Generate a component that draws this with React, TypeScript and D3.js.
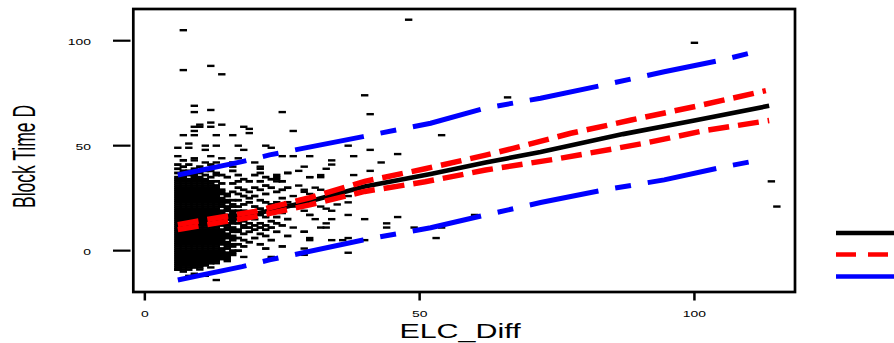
import React from "react";
import * as d3 from "d3";

// ---------- data ----------
// dense columns: ELC_Diff value -> Block Time D values
const col06 = [-9,-8,-7,-6,-5,-4,-3,-2,-1,0,1,2,3,4,5,6,7,8,9,10,11,12,13,14,15,16,17,18,19,20,21,22,23,24,25,26,27,28,29,30,31,32,33,34,35,37,39,41];
const col07 = [-9,-8,-7,-6,-5,-4,-3,-2,-1,0,1,2,3,4,5,6,7,8,9,10,11,12,13,14,15,16,17,18,19,20,21,22,23,24,25,26,27,28,29,30,31,32,33,34,35,36,38,40,43];
const col08 = [-9,-8,-7,-6,-5,-4,-3,-2,-1,0,1,2,3,4,5,6,7,8,9,10,11,12,13,14,15,16,17,18,19,20,21,22,23,24,25,26,27,28,29,30,31,32,33,34,36,38,41];
const col09 = [-8,-7,-6,-5,-4,-3,-2,-1,0,1,2,3,4,5,6,7,8,9,10,11,12,13,14,15,16,17,18,19,20,21,22,23,24,25,26,27,28,29,30,31,32,33,34,35,36,37,39];
const col10 = [-8,-7,-6,-5,-4,-3,-2,-1,0,1,2,3,4,5,6,7,8,9,10,11,12,13,14,15,16,17,18,19,20,21,22,23,24,25,26,27,28,29,30,31,32,33,34,35,37,40];
const col11 = [-7,-6,-5,-4,-3,-2,-1,0,1,2,3,4,5,6,7,8,9,10,11,12,13,14,15,16,17,18,19,20,21,22,23,24,25,26,27,28,29,30,31,32,33,34,36,38];
const col12 = [-6,-5,-4,-3,-2,-1,0,1,2,3,4,5,6,7,8,9,10,11,12,13,14,15,16,17,18,19,20,21,22,23,24,25,26,27,28,29,30,31,32,33,35,38,41];
const col13 = [-5,-4,-3,-2,-1,0,1,2,3,4,5,6,7,8,9,10,11,12,13,14,15,16,17,18,19,20,21,22,23,24,25,26,27,28,29,30,31,33,36,37];
const col14 = [-4,-3,-2,-1,0,1,3,4,5,6,7,8,9,10,12,13,14,15,16,17,18,19,21,22,23,24,25,27,28,29,32,36];
const col15 = [-4,-3,-2,-1,1,2,3,4,6,7,8,10,11,12,13,15,16,17,19,20,21,23,24,26,27,35];
const col16 = [-2,-1,0,2,3,5,6,7,9,10,11,13,14,15,17,18,19,21,22,24,28,32,38];
const col17 = [0,3,6,9,10,13,15,17,19,21,24,27,30,33,36];
const col18 = [2,5,8,11,12,14,17,19,22,26,29,34];
const col19 = [4,9,11,13,16,23,25,28,33];
const col20 = [6,10,12,15,18,21,26,30,36];
const col21 = [3,8,11,13,17,20,24,29,33,37];
const col22 = [1,7,10,12,16,23,27,31,35];
const col23 = [-4,5,11,14,19,22,30,34];
const col24 = [9,13,16,23,28,34,36];
const col25 = [2,12,18,25,29,33];
const col26 = [7,15,23,30,37];

const denseElc = [6,7,8,9,10,11,12,13,14,15,16,17,18,19,20,21,22,23,24,25,26];
const denseCols = [col06,col07,col08,col09,col10,col11,col12,col13,col14,col15,col16,col17,col18,col19,col20,col21,col22,col23,col24,col25,col26];

// sparse points [ELC_Diff, Block Time D]
const sparsePoints: [number, number][] = [
  [7,105],[7,86],[12,88],[14,84],[48,110],[100,99],[66,73],[40,74],[41,65],[54,55],[114,33],[115,21],
  [9,69],[9,66],[12,67],[25,66],
  [9,59],[10,60],[10,59],[12,61],[14,60],[12,59],[18,59],[19,58],[19,56],[9,57],[9,55],[7,55],[13,55],[16,55],[27,57],
  [8,51],[6,49],[8,49],[11,50],[11,48],[13,50],[17,50],[18,48],[22,50],[23,49],
  [6,45],[9,44],[9,43],[12,45],[17,44],[11,42],[13,42],[20,42],[21,40],[21,39],[25,45],[27,45],[30,45],[28,38],[29,40],[26,37],
  [16,42],[16,40],[14,44],[15,41],
  [37,50],[38,45],[41,48],[46,46],[34,43],[34,41],[43,42],[33,39],[41,38],[30,35],[32,36],[32,35],[38,36],
  [29,29],[29,28],[31,30],[32,29],[37,26],[37,23],[35,22],[32,21],[33,20],[34,19],[34,15],[30,17],[31,15],[37,17],[40,15],[46,16],
  [33,13],[33,11],[32,11],[44,13],[44,11],[49,11],[54,11],[29,9],[30,6],[34,5],[36,5],[37,6],[40,5],[53,6],
  [29,1],[29,-2],[37,-1],[60,17],
  [24,35],[24,33],[30,35],[28,31],[27,26],[30,27],[27,21],[29,19],[30,17],[27,11],[29,9],[30,5],[18,-3],[23,-3],
  [15,-5],[13,-6],[11,-12],[13,-14],[9,-11],[7,-10],[8,-12],[6,-9],[10,-9],[12,-8]
];

// fitted line and intervals
const fitX = [6, 20, 30, 40, 52, 62, 72, 87, 100, 113.6];
const fitY = [11.2, 17.5, 23.5, 30.5, 36.5, 42, 47, 55.5, 62, 69];
const ciUpX = [6, 20, 30, 40, 51, 62, 67, 77.5, 88.5, 100.7, 113];
const ciUpY = [12.4, 18.7, 25.2, 33, 39, 45.5, 48.7, 55.9, 62.2, 69, 76.2];
const ciLoX = [6, 20, 30, 40, 51, 62, 74.5, 90.8, 101.7, 113.6];
const ciLoY = [10, 16.2, 21.8, 28.2, 32.8, 38.4, 43.5, 51.1, 57.1, 62];
const piUpX = [6, 17.7, 22.7, 39.7, 52, 62, 72, 83.5, 94.5, 105.5, 112.5];
const piUpY = [36, 42.4, 45.6, 54.3, 60.7, 67.9, 72.6, 78.9, 85.2, 91.1, 95.6];
const piLoX = [6, 17.7, 22.7, 39.7, 52, 62, 72, 83.5, 94.5, 105.5, 112.5];
const piLoY = [-14, -7.6, -4.4, 5.1, 10.9, 17, 22.9, 28.9, 33.7, 40, 43.5];

const xTicks = [0, 50, 100];
const yTicks = [0, 50, 100];

const zip = (xs: number[], ys: number[]) => xs.map((x, i) => [x, ys[i]] as [number, number]);

export default function App() {
  const W = 894, H = 343;
  const x = d3.scaleLinear().domain([-2.1, 118.3]).range([133.3, 795]);
  const y = d3.scaleLinear().domain([-19.7, 115.1]).range([292, 9]);
  const line = d3.line<[number, number]>().x(d => x(d[0])).y(d => y(d[1]));

  const densePts: [number, number][] = [];
  denseCols.forEach((col, i) => col.forEach(v => densePts.push([denseElc[i], v])));

  const font = "'Liberation Sans', Arial, Helvetica, sans-serif";

  return (
    <svg width={W} height={H} style={{ position: "absolute", left: 0, top: 0, background: "#fff" }}>
      <rect x={0} y={0} width={W} height={H} fill="#fff" />
      {/* points */}
      <g fill="#000">
        {densePts.map((p, i) => (
          <rect key={"d" + i} x={x(p[0]) - 3.7} y={y(p[1]) - 1.4} width={7.4} height={2.8} />
        ))}
        {sparsePoints.map((p, i) => (
          <rect key={"s" + i} x={x(p[0]) - 3.7} y={y(p[1]) - 1.2} width={7.4} height={2.4} />
        ))}
      </g>
      {/* lines */}
      <path d={line(zip(fitX, fitY)) || ""} fill="none" stroke="#000" strokeWidth={4.6} />
      <path d={line(zip(ciUpX, ciUpY)) || ""} fill="none" stroke="#ff0000" strokeWidth={5.5} strokeDasharray="21,9" />
      <path d={line(zip(ciLoX, ciLoY)) || ""} fill="none" stroke="#ff0000" strokeWidth={5.5} strokeDasharray="21,9" />
      <path d={line(zip(piUpX, piUpY)) || ""} fill="none" stroke="#0000ff" strokeWidth={5} strokeDasharray="70,17,16,17" />
      <path d={line(zip(piLoX, piLoY)) || ""} fill="none" stroke="#0000ff" strokeWidth={5} strokeDasharray="70,17,16,17" />
      {/* frame */}
      <rect x={133.3} y={9} width={661.7} height={283} fill="none" stroke="#000" strokeWidth={2.7} />
      {/* y ticks */}
      {yTicks.map(t => (
        <g key={"y" + t}>
          <line x1={113} x2={130.5} y1={y(t)} y2={y(t)} stroke="#000" strokeWidth={2.2} />
          <text transform={`translate(91,${y(t) + 4.6}) scale(1.45,1)`} textAnchor="end" fontSize={9.6} fontFamily={font} fill="#000">{t}</text>
        </g>
      ))}
      {/* x ticks */}
      {xTicks.map(t => (
        <g key={"x" + t}>
          <line x1={x(t)} x2={x(t)} y1={292} y2={300.5} stroke="#000" strokeWidth={2.5} />
          <text transform={`translate(${x(t)},317) scale(1.45,1)`} textAnchor="middle" fontSize={9.6} fontFamily={font} fill="#000">{t}</text>
        </g>
      ))}
      {/* axis titles */}
      <text transform="translate(460,338) scale(1.45,1)" textAnchor="middle" fontSize={21} fontFamily={font} fill="#000">ELC_Diff</text>
      <text transform="translate(35,156.5) scale(1.8,1) rotate(-90)" textAnchor="middle" fontSize={17.5} fontFamily={font} fill="#000">Block Time D</text>
      {/* legend */}
      <line x1={836} x2={900} y1={233} y2={233} stroke="#000" strokeWidth={4.7} />
      <line x1={836} x2={900} y1={254.5} y2={254.5} stroke="#ff0000" strokeWidth={4.7} strokeDasharray="20,12" />
      <line x1={836} x2={900} y1={276.5} y2={276.5} stroke="#0000ff" strokeWidth={4.7} />
    </svg>
  );
}
